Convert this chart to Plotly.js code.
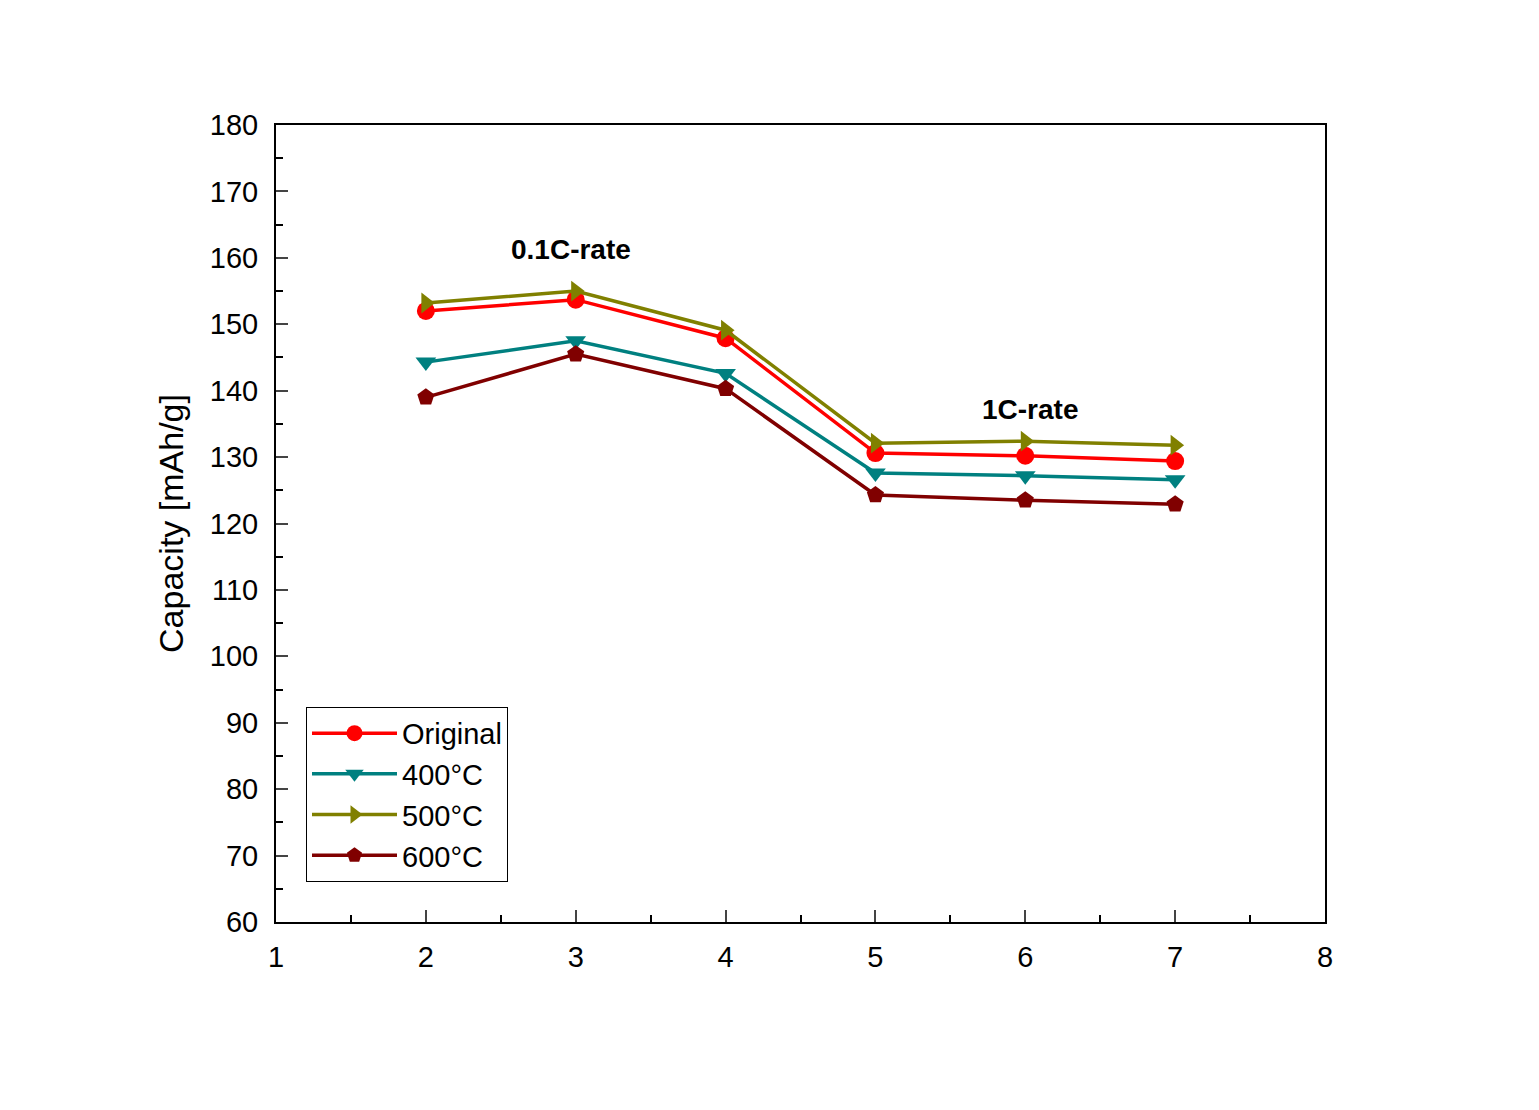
<!DOCTYPE html>
<html><head><meta charset="utf-8">
<script src="https://cdn.plot.ly/plotly-3.0.1.min.js"></script>
<style>html,body{margin:0;padding:0;background:#fff}</style>
</head><body>
<div id="chart" style="width:1539px;height:1110px"></div>
<script>
const cycles = [2, 3, 4, 5, 6, 7];
const seriesNames = ["Original", "400\u00B0C", "500\u00B0C", "600\u00B0C"];
const original = [152.0, 153.7, 147.9, 130.6, 130.2, 129.4];
const c400 = [144.3, 147.5, 142.6, 127.6, 127.2, 126.6];
const c500 = [153.2, 155.0, 149.1, 132.1, 132.4, 131.8];
const c600 = [139.0, 145.5, 140.3, 124.3, 123.5, 122.9];
const colors = ["#FF0000", "#008080", "#808000", "#800000"];
const symbols = ["circle", "triangle-down", "triangle-right", "pentagon"];
const allSeries = [original, c400, c500, c600];

const font = "Liberation Sans, Arial, sans-serif";
const traces = allSeries.map((ys, i) => ({
  x: cycles, y: ys, name: seriesNames[i], type: "scatter", mode: "lines+markers",
  line: {color: colors[i], width: 3.5},
  marker: {symbol: symbols[i], size: 18, color: colors[i]}
}));

const layout = {
  width: 1539, height: 1110,
  margin: {l: 276, r: 214, t: 125, b: 188},
  paper_bgcolor: "#fff", plot_bgcolor: "#fff",
  showlegend: true,
  legend: {x: 0.0286, y: 0.27, xanchor: "left", yanchor: "top",
    bordercolor: "#000", borderwidth: 1, bgcolor: "#fff", itemwidth: 85,
    font: {family: font, size: 29, color: "#000"}, tracegroupgap: 0},
  xaxis: {range: [1, 8], dtick: 1, tick0: 1, ticks: "inside", ticklen: 12, tickwidth: 2,
    minor: {dtick: 0.5, ticks: "inside", ticklen: 7, tickwidth: 2, tickcolor: "#000"},
    showgrid: false, zeroline: false, showline: true, linewidth: 2, linecolor: "#000", mirror: true,
    ticklabelstandoff: 8,
    tickfont: {family: font, size: 29, color: "#000"}},
  yaxis: {range: [60, 180], dtick: 10, tick0: 60, ticks: "inside", ticklen: 12, tickwidth: 2,
    minor: {dtick: 5, ticks: "inside", ticklen: 7, tickwidth: 2, tickcolor: "#000"},
    showgrid: false, zeroline: false, showline: true, linewidth: 2, linecolor: "#000", mirror: true,
    ticklabelstandoff: 10,
    tickfont: {family: font, size: 29, color: "#000"},
    title: {text: "Capacity [mAh/g]", font: {family: font, size: 34, color: "#000"}, standoff: 16}},
  annotations: [
    {x: 2.97, y: 161.3, xref: "x", yref: "y", text: "<b>0.1C-rate</b>", showarrow: false,
     font: {family: font, size: 28, color: "#000"}},
    {x: 6.03, y: 137.2, xref: "x", yref: "y", text: "<b>1C-rate</b>", showarrow: false,
     font: {family: font, size: 28, color: "#000"}}
  ]
};
Plotly.newPlot("chart", traces, layout, {displayModeBar: false});
</script>
</body></html>
